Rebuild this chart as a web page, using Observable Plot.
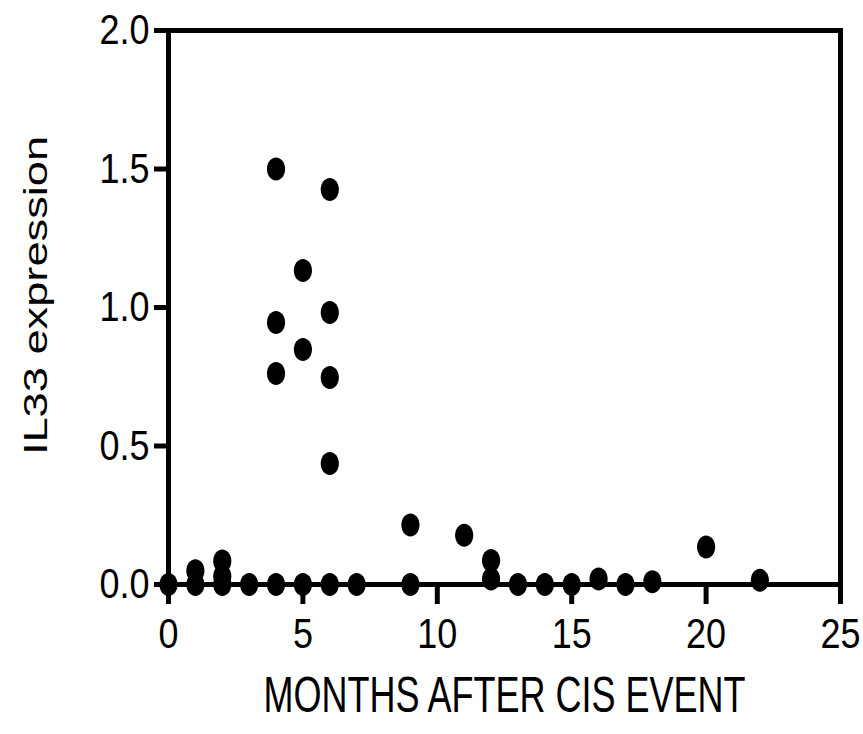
<!DOCTYPE html>
<html><head><meta charset="utf-8">
<script src="https://cdn.jsdelivr.net/npm/d3@7"></script>
<script src="https://cdn.jsdelivr.net/npm/@observablehq/plot@0.6"></script>
<style>body{margin:0;background:#fff}</style>
</head><body><div id="chart"></div>
<script>
// Data
const months = [0, 1, 1, 2, 2, 2, 3, 4, 4, 4, 4, 5, 5, 5, 6, 6, 6, 6, 6, 7, 9, 9, 11, 12, 12, 13, 14, 15, 16, 17, 18, 20, 22];
const il33 =   [0, 0.05, 0, 0.085, 0.03, 0, 0, 1.50, 0.946, 0.762, 0, 1.134, 0.848, 0, 1.426, 0.982, 0.747, 0.437, 0, 0, 0.215, 0, 0.178, 0.087, 0.02, 0, 0, 0, 0.02, 0, 0.01, 0.135, 0.015];
const xTicks = [0, 5, 10, 15, 20, 25];
const yTicks = [0, 0.5, 1.0, 1.5, 2.0];
const xLabel = "MONTHS AFTER CIS EVENT";
const yLabel = "IL33 expression";

const data = months.map((m, i) => ({month: m, value: il33[i]}));

// slightly tall ellipse symbol, as in the reference
const ellipse = {
  draw(ctx, size) {
    const r = Math.sqrt(size / Math.PI), rx = r * 0.79, ry = r, k = 0.5523;
    ctx.moveTo(rx, 0);
    ctx.bezierCurveTo(rx, k * ry, k * rx, ry, 0, ry);
    ctx.bezierCurveTo(-k * rx, ry, -rx, k * ry, -rx, 0);
    ctx.bezierCurveTo(-rx, -k * ry, -k * rx, -ry, 0, -ry);
    ctx.bezierCurveTo(k * rx, -ry, rx, -k * ry, rx, 0);
    ctx.closePath();
  }
};

const svg = Plot.plot({
  width: 863,
  height: 734,
  marginLeft: 168,
  marginRight: 23,
  marginTop: 30,
  marginBottom: 150,
  style: {fontFamily: "'Liberation Sans', Arial, sans-serif", fontSize: "36px", background: "white", color: "black", overflow: "visible"},
  x: {domain: [0, 25]},
  y: {domain: [0, 2]},
  marks: [
    Plot.frame({stroke: "black", strokeWidth: 5}),
    Plot.axisX({ticks: xTicks, tickSize: 20, tickPadding: 13, strokeWidth: 5, fontSize: 36, label: null, tickFormat: d => String(d)}),
    Plot.axisY({ticks: yTicks, tickSize: 14, tickPadding: 5, strokeWidth: 5, fontSize: 36, label: null, tickFormat: d3.format(".1f")}),
    Plot.dot(data, {x: "month", y: "value", r: 11.5, symbol: ellipse, fill: "black", stroke: "none"}),
    Plot.text([xLabel], {frameAnchor: "bottom", dy: 111, lineAnchor: "middle", textAnchor: "middle", fontSize: 36, fill: "black"}),
    Plot.text([yLabel], {frameAnchor: "left", dx: -132, dy: -12, rotate: -90, lineAnchor: "middle", textAnchor: "middle", fontSize: 34, fill: "black"})
  ]
});

// reproduce the vertically stretched lettering of the reference
svg.querySelectorAll("text").forEach(t => {
  const tr = t.getAttribute("transform");
  const g = t.closest("g[aria-label]");
  const lab = g ? g.getAttribute("aria-label") : "";
  let s;
  if (tr && tr.includes("rotate")) s = "scale(1.33,1)";
  else if (lab.includes("tick label")) s = "scale(1,1.18)";
  else s = "scale(1,1.4)";
  if (tr) t.setAttribute("transform", tr + " " + s);
  else {
    const x = +t.getAttribute("x") || 0, y = +t.getAttribute("y") || 0;
    t.setAttribute("transform", `translate(${x},${y}) ${s} translate(${-x},${-y})`);
  }
});

document.getElementById("chart").appendChild(svg);
</script>
</body></html>
